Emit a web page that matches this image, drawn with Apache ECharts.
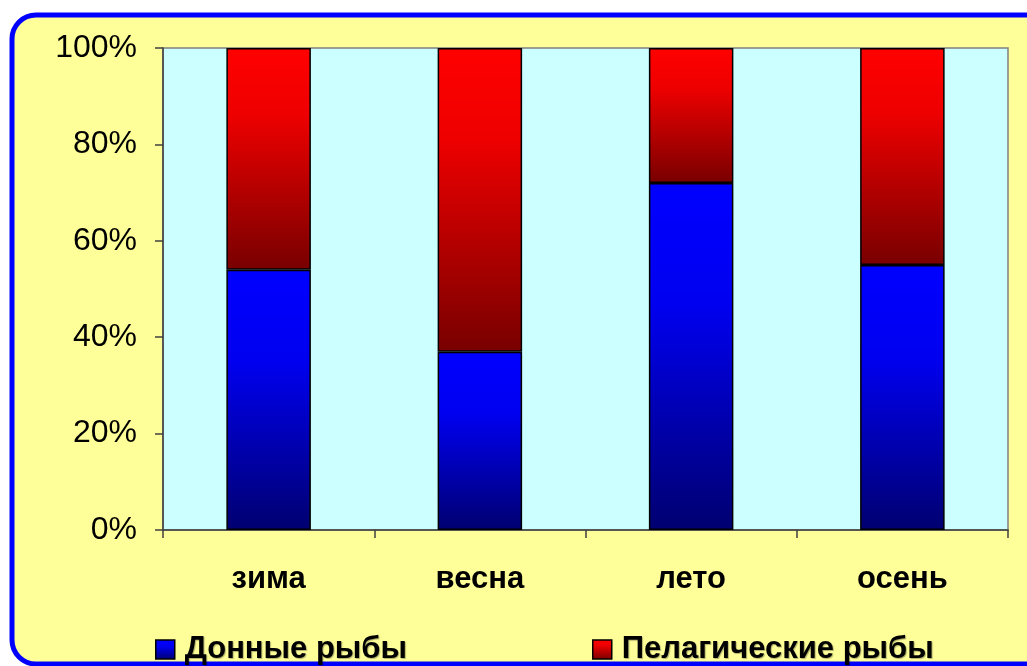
<!DOCTYPE html>
<html><head><meta charset="utf-8">
<script src="https://cdn.jsdelivr.net/npm/echarts@6/dist/echarts.min.js"></script>
<style>html,body{margin:0;padding:0;background:#fff}#c{width:1027px;height:666px}</style>
</head><body><div id="c"></div>
<script>
const categories = ['зима', 'весна', 'лето', 'осень'];
const bottomFish = [54, 37, 72, 55];
const pelagicFish = [46, 63, 28, 45];
const yTicks = [0, 20, 40, 60, 80, 100];
const seriesNames = ['Донные рыбы', 'Пелагические рыбы'];

const blueGrad = new echarts.graphic.LinearGradient(0, 0, 0, 1, [
  {offset: 0, color: '#0000FF'}, {offset: 0.35, color: '#0000F0'}, {offset: 1, color: '#000070'}]);
const redGrad = new echarts.graphic.LinearGradient(0, 0, 0, 1, [
  {offset: 0, color: '#FF0000'}, {offset: 0.3, color: '#EE0000'}, {offset: 1, color: '#780000'}]);

const chart = echarts.init(document.getElementById('c'), null, {renderer: 'canvas'});
const font = 'Arial, "Liberation Sans", sans-serif';
const legendText = {fontFamily: font, fontSize: 31, fontWeight: 'bold', color: '#000', padding: [0, 0, 0, 5],
  textShadowColor: 'rgba(0,0,0,0.3)', textShadowOffsetX: 1, textShadowOffsetY: 1, textShadowBlur: 1};
chart.setOption({
  backgroundColor: '#ffffff',
  animation: false,
  graphic: [{
    type: 'rect', z: -10, silent: true,
    shape: {x: 12, y: 15, width: 1040, height: 649, r: 24},
    style: {fill: '#FFFF99', stroke: '#0000FF', lineWidth: 5}
  }],
  grid: {left: 163, right: 19, top: 48, bottom: 136, show: true,
    backgroundColor: '#CCFFFF', borderColor: '#808080', borderWidth: 1.5},
  legend: [{
    data: [seriesNames[0]], left: 150, top: 629, itemWidth: 19, itemHeight: 19, icon: 'rect',
    textStyle: legendText,
    itemStyle: {borderColor: '#000', borderWidth: 1.5}
  }, {
    data: [seriesNames[1]], left: 587, top: 629, itemWidth: 19, itemHeight: 19, icon: 'rect',
    textStyle: legendText,
    itemStyle: {borderColor: '#000', borderWidth: 1.5}
  }],
  xAxis: {
    type: 'category', data: categories,
    axisLine: {lineStyle: {color: '#404040', width: 1.5}},
    axisTick: {show: true, length: 8, lineStyle: {color: '#404040', width: 1.5}},
    axisLabel: {margin: 34, fontFamily: font, fontSize: 31, fontWeight: 'bold', color: '#000'}
  },
  yAxis: {
    type: 'value', min: 0, max: 100, interval: 20,
    axisLine: {show: true, lineStyle: {color: '#404040', width: 1.5}},
    axisTick: {show: true, length: 8, lineStyle: {color: '#404040', width: 1.5}},
    splitLine: {show: false},
    axisLabel: {margin: 26, fontFamily: font, fontSize: 32, color: '#000',
      formatter: v => yTicks.includes(v) ? v + '%' : ''}
  },
  series: [{
    name: seriesNames[0], type: 'bar', stack: 's', data: bottomFish, barWidth: '40%',
    itemStyle: {color: blueGrad, borderColor: '#000', borderWidth: 1.5}
  }, {
    name: seriesNames[1], type: 'bar', stack: 's', data: pelagicFish, barWidth: '40%',
    itemStyle: {color: redGrad, borderColor: '#000', borderWidth: 1.5}
  }]
});
</script></body></html>
